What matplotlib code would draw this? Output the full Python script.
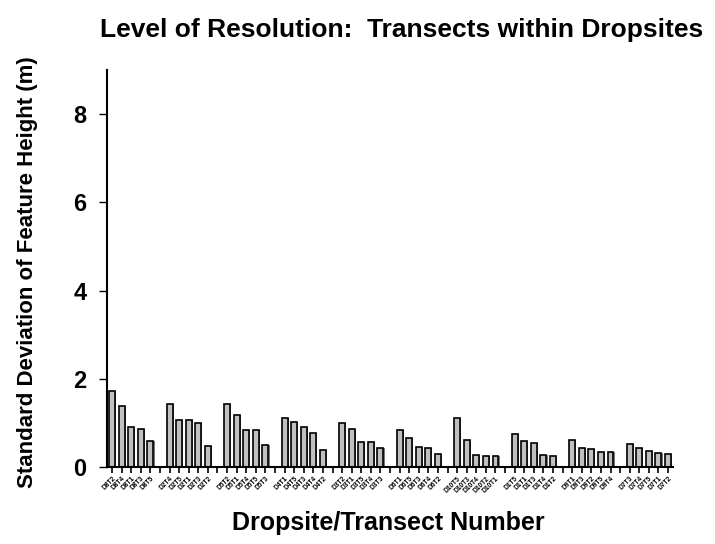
import numpy as np
import matplotlib
matplotlib.use('Agg')
import matplotlib.pyplot as plt

plt.rcParams['font.family'] = ['Liberation Sans', 'DejaVu Sans']
plt.rcParams['font.weight'] = 'bold'

# groups of transects, in plotted order
groups = [
    ['D8T2', 'D8T4', 'D8T1', 'D8T3', 'D8T5'],
    ['D2T4', 'D2T5', 'D2T1', 'D2T3', 'D2T2'],
    ['D5T2', 'D5T1', 'D5T4', 'D5T5', 'D5T3'],
    ['D4T1', 'D4T5', 'D4T3', 'D4T4', 'D4T2'],
    ['D3T2', 'D3T1', 'D3T5', 'D3T4', 'D3T3'],
    ['D6T1', 'D6T5', 'D6T3', 'D6T4', 'D6T2'],
    ['D10T5', 'D10T3', 'D10T4', 'D10T2', 'D10T1'],
    ['D1T5', 'D1T1', 'D1T3', 'D1T4', 'D1T2'],
    ['D9T1', 'D9T3', 'D9T2', 'D9T5', 'D9T4'],
    ['D7T3', 'D7T4', 'D7T5', 'D7T1', 'D7T2'],
]
group_vals = [
    [1.73, 1.39, 0.91, 0.86, 0.59],
    [1.44, 1.06, 1.06, 0.99, 0.48],
    [1.43, 1.17, 0.84, 0.84, 0.51],
    [1.11, 1.02, 0.91, 0.78, 0.39],
    [1.00, 0.86, 0.57, 0.57, 0.43],
    [0.85, 0.66, 0.45, 0.43, 0.30],
    [1.12, 0.61, 0.27, 0.26, 0.24],
    [0.74, 0.60, 0.54, 0.27, 0.25],
    [0.62, 0.43, 0.41, 0.35, 0.33],
    [0.53, 0.43, 0.37, 0.32, 0.29],
]

# flatten with an empty slot between groups
labels = []
values = []
for gi, (g, v) in enumerate(zip(groups, group_vals)):
    labels += g
    values += v
    if gi < len(groups) - 1:
        labels.append('')
        values.append(np.nan)

x = np.arange(len(labels))

fig = plt.figure(figsize=(7.15, 5.44), dpi=100)
ax = fig.add_axes([0.15, 0.1415, 0.791, 0.7295])

ax.bar(x + 0.12, np.nan_to_num(values), width=0.62, color='#777777', zorder=1)
ax.bar(x, np.nan_to_num(values), width=0.62, color='#c0c0c0',
       edgecolor='black', linewidth=1.2, zorder=2)

ax.set_xlim(-0.5, len(labels) - 0.5)
ax.set_ylim(0, 9)
ax.set_yticks([0, 2, 4, 6, 8])
ax.tick_params(axis='y', labelsize=17, length=6, width=1.0, pad=9)
ax.set_xticks(x)
ax.set_xticklabels(labels, rotation=45, ha='right', rotation_mode='anchor',
                   fontsize=4.8, fontweight='bold')
ax.tick_params(axis='x', length=4, width=1.2, pad=2)

for s in ['top', 'right']:
    ax.spines[s].set_visible(False)
for s in ['left', 'bottom']:
    ax.spines[s].set_linewidth(1.5)

fig.text(0.5615, 0.945, 'Level of Resolution:  Transects within Dropsites',
         ha='center', va='center', fontsize=19, fontweight='bold')
fig.text(0.038, 0.5, 'Standard Deviation of Feature Height (m)', rotation=90,
         ha='center', va='center', fontsize=16, fontweight='bold')
fig.text(0.543, 0.039, 'Dropsite/Transect Number', ha='center', va='center',
         fontsize=18, fontweight='bold')

fig.savefig('out.png', dpi=100)
